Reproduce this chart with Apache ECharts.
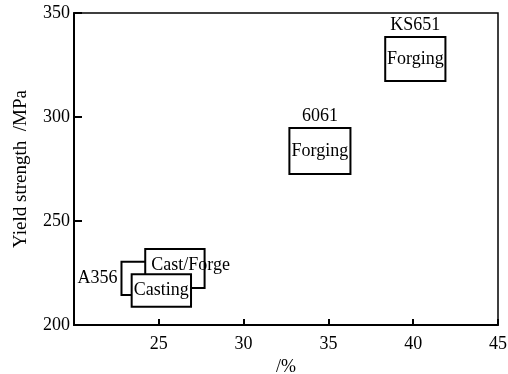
<!DOCTYPE html>
<html>
<head>
<meta charset="utf-8">
<script src="https://cdn.jsdelivr.net/npm/echarts@6/dist/echarts.min.js"></script>
<style>
  html, body { margin: 0; padding: 0; background: #fff; }
  #chart { width: 508px; height: 374px; }
</style>
</head>
<body>
<div id="chart"></div>
<script>
// ranges: elongation (%) and yield strength (MPa)
var boxNames   = ['A356', 'Cast/Forge', 'Casting', '6061', 'KS651'];
var elongLow   = [22.8, 24.2, 23.4, 32.7, 38.35];
var elongHigh  = [26.0, 27.7, 26.9, 36.3, 41.9];
var yieldLow   = [214.4, 217.8, 208.8, 272.6, 317.3];
var yieldHigh  = [230.4, 236.5, 224.4, 294.7, 338.5];
var innerText  = ['', 'Cast/Forge', 'Casting', 'Forging', 'Forging'];
var outerText  = ['A356', '', '', '6061', 'KS651'];

var xTicks = [20, 25, 30, 35, 40, 45];
var yTicks = [200, 250, 300, 350];

// where the labels go for each box
var outerPos = { 'A356': 'left', '6061': 'top', 'KS651': 'top' };
var innerPos = { 'Cast/Forge': 'left' };

var FONT = 'Liberation Serif';

var chart = echarts.init(document.getElementById('chart'));

var boxData = boxNames.map(function (n, i) {
    return { name: n, value: [elongLow[i], elongHigh[i], yieldLow[i], yieldHigh[i], i] };
});

function renderBox(params, api) {
    var i = api.value(4);
    var p0 = api.coord([api.value(0), api.value(3)]);
    var p1 = api.coord([api.value(1), api.value(2)]);
    var w = p1[0] - p0[0], h = p1[1] - p0[1];
    var name = boxNames[i];
    var kids = [{
        type: 'rect',
        shape: { x: p0[0], y: p0[1], width: w, height: h },
        style: { fill: '#fff', stroke: '#000', lineWidth: 2 }
    }];
    if (innerText[i]) {
        var left = innerPos[name] === 'left';
        kids.push({
            type: 'text',
            style: {
                text: innerText[i],
                x: left ? p0[0] + 6 : p0[0] + w / 2,
                y: left ? p0[1] + 16 : p0[1] + h / 2,
                align: left ? 'left' : 'center',
                verticalAlign: 'middle',
                fontSize: 18, fontFamily: FONT, fill: '#000'
            }
        });
    }
    if (outerText[i]) {
        var isLeft = outerPos[name] === 'left';
        kids.push({
            type: 'text',
            style: {
                text: outerText[i],
                x: isLeft ? p0[0] - 4 : p0[0] + w / 2,
                y: isLeft ? p0[1] + h / 2 : p0[1] - 3,
                align: isLeft ? 'right' : 'center',
                verticalAlign: isLeft ? 'middle' : 'bottom',
                fontSize: 18, fontFamily: FONT, fill: '#000'
            }
        });
    }
    return { type: 'group', children: kids };
}

var option = {
    animation: false,
    backgroundColor: '#fff',
    textStyle: { fontFamily: FONT, color: '#000' },
    grid: {
        left: 74, right: 10, top: 13, bottom: 49,
        outerBoundsMode: 'none',
        show: true, borderColor: '#000', borderWidth: 1.5
    },
    xAxis: {
        type: 'value',
        min: xTicks[0], max: xTicks[xTicks.length - 1], interval: 5,
        name: '/%',
        nameLocation: 'middle',
        nameGap: 32,
        nameTextStyle: { fontSize: 18, fontFamily: FONT, color: '#000' },
        axisLine: { lineStyle: { color: '#000', width: 2 } },
        axisTick: { inside: true, length: 6, lineStyle: { color: '#000', width: 2 } },
        axisLabel: { showMinLabel: false, margin: 10, fontSize: 18, fontFamily: FONT, color: '#000' },
        splitLine: { show: false }
    },
    yAxis: {
        type: 'value',
        min: yTicks[0], max: yTicks[yTicks.length - 1], interval: 50,
        name: 'Yield strength  /MPa',
        nameLocation: 'middle',
        nameGap: 43,
        nameTextStyle: { fontSize: 19, fontFamily: FONT, color: '#000' },
        axisLine: { lineStyle: { color: '#000', width: 2 } },
        axisTick: { inside: true, length: 8, lineStyle: { color: '#000', width: 2 } },
        axisLabel: { margin: 4, fontSize: 18, fontFamily: FONT, color: '#000' },
        splitLine: { show: false }
    },
    series: [{
        type: 'custom',
        renderItem: renderBox,
        encode: { x: [0, 1], y: [2, 3] },
        data: boxData
    }]
};
chart.setOption(option);
</script>
</body>
</html>
